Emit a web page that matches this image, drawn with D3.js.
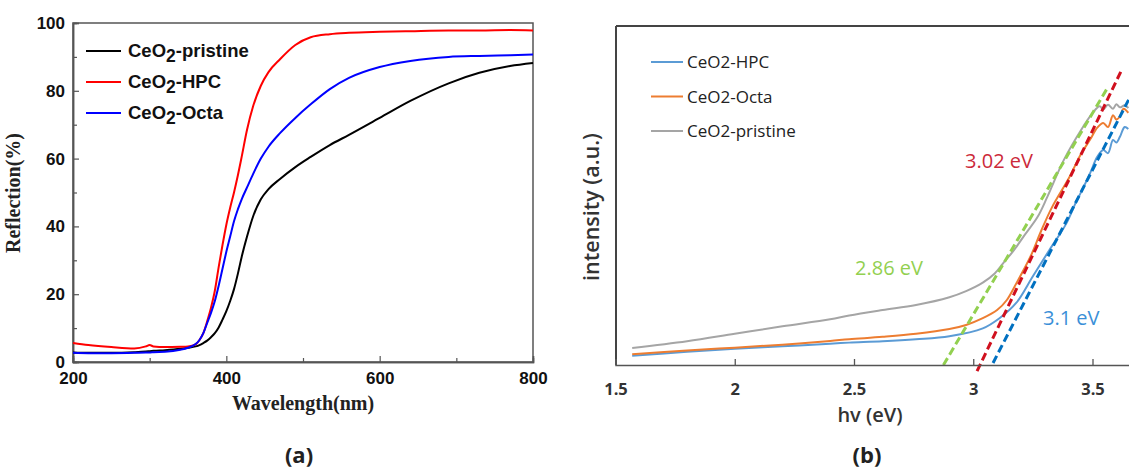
<!DOCTYPE html>
<html>
<head>
<meta charset="utf-8">
<script src="https://cdn.jsdelivr.net/npm/d3@7"></script>
<style>
  body { margin: 0; background: #fff; }
  svg { display: block; }
</style>
</head>
<body>
<div id="chart"></div>
<script>
// ---- panel (a): diffuse reflectance ----
var wavelength = [200, 220, 250, 280, 295, 300, 305, 320, 340, 350, 360, 365, 370, 375, 380, 385, 390, 395, 400, 405, 410, 415, 420, 427, 435, 445, 455, 470, 490, 510, 535, 560, 600, 640, 690, 730, 770, 800];
var reflPristine = [2.8, 2.7, 2.7, 2.9, 3.1, 3.2, 3.3, 3.5, 3.9, 4.2, 4.6, 5.0, 5.6, 6.3, 7.3, 8.5, 10.2, 12.5, 15, 18, 21.5, 26, 31, 37, 43, 48, 51, 54, 57.5, 60.5, 64, 67, 72, 77, 82.2, 85.3, 87.3, 88.2];
var reflHPC = [5.6, 5.0, 4.4, 4.0, 4.6, 5.0, 4.6, 4.4, 4.5, 4.6, 5.2, 6.5, 8.5, 12, 16, 21, 28, 34.5, 40.5, 45.5, 50, 55, 60.5, 68.5, 75.5, 81.5, 85.5, 89.3, 93.5, 95.8, 96.7, 97.1, 97.4, 97.6, 97.8, 97.8, 97.9, 97.8];
var reflOcta = [2.7, 2.6, 2.6, 2.7, 2.8, 2.8, 2.9, 3.0, 3.6, 4.2, 5.3, 6.5, 8.5, 11.5, 14.5, 18, 22.5, 27.5, 32.5, 37, 41.5, 45, 48, 51.5, 55.5, 60, 63.5, 67.5, 72, 76, 80.5, 83.8, 87, 88.8, 90, 90.3, 90.5, 90.7];
var reflSeries = [
  {name: "pristine", color: "#000000", values: reflPristine},
  {name: "HPC", color: "#ff0000", values: reflHPC},
  {name: "Octa", color: "#0000ff", values: reflOcta}
];
var reflTicksX = [200, 400, 600, 800];
var reflMinorX = [300, 500, 700];
var reflTicksY = [0, 20, 40, 60, 80, 100];
var reflMinorY = [10, 30, 50, 70, 90];

// ---- panel (b): Tauc plot ----
var hvPristine = [1.57, 1.8, 2.0, 2.2, 2.4, 2.48, 2.62, 2.76, 2.9, 2.97, 3.04, 3.09, 3.125, 3.17, 3.21, 3.27, 3.31, 3.38, 3.46, 3.5, 3.53, 3.545, 3.565, 3.586, 3.6, 3.615, 3.635, 3.65];
var intPristine = [5.0, 7.0, 9.2, 11.4, 13.5, 14.6, 16.2, 17.7, 20, 21.8, 24.3, 27, 30, 33.8, 37.8, 43.7, 49.5, 60.5, 70.2, 74.3, 76.3, 75.4, 76.8, 75.6, 76.9, 76.0, 76.6, 75.8];
var hvOcta = [1.57, 1.8, 2.0, 2.2, 2.4, 2.48, 2.62, 2.76, 2.9, 2.97, 3.04, 3.1, 3.14, 3.18, 3.24, 3.285, 3.33, 3.4, 3.45, 3.49, 3.52, 3.545, 3.565, 3.586, 3.6, 3.615, 3.63, 3.65];
var intOcta = [3.2, 4.3, 5.1, 6.0, 7.1, 7.6, 8.3, 9.2, 10.6, 11.8, 13.8, 16.2, 19.1, 24, 32, 39.6, 46.5, 55, 62, 66.5, 70, 71.4, 70.2, 73.7, 72.4, 73.3, 75.6, 74.4];
var hvHPC = [1.57, 1.8, 2.0, 2.2, 2.4, 2.48, 2.62, 2.76, 2.9, 3.04, 3.11, 3.18, 3.25, 3.32, 3.39, 3.435, 3.45, 3.49, 3.52, 3.545, 3.565, 3.586, 3.6, 3.615, 3.635, 3.65];
var intHPC = [2.7, 3.9, 4.8, 5.5, 6.3, 6.6, 7.0, 7.6, 8.5, 10.8, 13.8, 18.3, 26.2, 34, 41.7, 48.7, 50.7, 56.6, 61.4, 63.4, 62.5, 66.4, 65.6, 67.3, 70.2, 69.6];
var taucSeries = [
  {name: "CeO2-HPC", color: "#5b9bd5", hv: hvHPC, values: intHPC},
  {name: "CeO2-Octa", color: "#ed7d31", hv: hvOcta, values: intOcta},
  {name: "CeO2-pristine", color: "#a5a5a5", hv: hvPristine, values: intPristine}
];
// tangent lines: [hv, intensity] end points
var tangents = [
  {color: "#92d050", ends: [[2.875, 0], [3.565, 82]]},
  {color: "#d0101e", ends: [[3.016, -1.8], [3.624, 87.3]]},
  {color: "#0070c0", ends: [[3.083, 0.6], [3.75, 91.7]]}
];
var gapLabels = [
  {text: "3.02 eV", color: "#cc2a3a", x: 965, y: 168},
  {text: "2.86 eV", color: "#92d050", x: 855, y: 275},
  {text: "3.1 eV", color: "#3a8fd8", x: 1043, y: 325}
];
var taucTicksX = [1.5, 2, 2.5, 3, 3.5];

var W = 1129, H = 470;
var svg = d3.select("#chart").append("svg")
  .attr("width", W)
  .attr("height", H);

// ================= panel (a) =================
var ax = d3.scaleLinear().domain([200, 800]).range([73, 533]);
var ay = d3.scaleLinear().domain([0, 100]).range([362, 23]);
var gA = svg.append("g");

gA.append("rect")
  .attr("x", 73).attr("y", 23)
  .attr("width", 460).attr("height", 339)
  .attr("fill", "none").attr("stroke", "#555").attr("stroke-width", 1.5);

gA.append("g").attr("transform", "translate(0,362)")
  .call(d3.axisBottom(ax).tickValues(reflTicksX).tickSize(-6).tickPadding(10));
gA.append("g").attr("transform", "translate(0,362)")
  .call(d3.axisBottom(ax).tickValues(reflMinorX).tickSize(-4).tickFormat(""));
gA.append("g").attr("transform", "translate(73,0)")
  .call(d3.axisLeft(ay).tickValues(reflTicksY).tickSize(-6).tickPadding(8));
gA.append("g").attr("transform", "translate(73,0)")
  .call(d3.axisLeft(ay).tickValues(reflMinorY).tickSize(-4).tickFormat(""));

gA.selectAll(".domain").attr("stroke", "#555").attr("stroke-width", 1.5);
gA.selectAll(".tick line").attr("stroke", "#555").attr("stroke-width", 1.2);
gA.selectAll(".tick text")
  .attr("font-family", "Liberation Sans, Arial, sans-serif")
  .attr("font-weight", "bold")
  .attr("font-size", 17)
  .attr("fill", "#111");

var lineA = d3.line()
  .x(function (d, i) { return ax(wavelength[i]); })
  .y(function (d) { return ay(d); })
  .curve(d3.curveMonotoneX);

gA.selectAll(".refl")
  .data(reflSeries)
  .join("path")
  .attr("class", "refl")
  .attr("d", function (d) { return lineA(d.values); })
  .attr("fill", "none")
  .attr("stroke", function (d) { return d.color; })
  .attr("stroke-width", 2);

// legend (a)
var legA = gA.append("g");
reflSeries.forEach(function (s, i) {
  var yy = 51 + i * 31;
  legA.append("line")
    .attr("x1", 86).attr("x2", 121).attr("y1", yy).attr("y2", yy)
    .attr("stroke", s.color).attr("stroke-width", 2);
  var t = legA.append("text")
    .attr("x", 128).attr("y", yy + 6)
    .attr("font-family", "Liberation Sans, Arial, sans-serif")
    .attr("font-weight", "bold")
    .attr("font-size", 18.5)
    .attr("fill", "#111");
  t.append("tspan").text("CeO");
  t.append("tspan").attr("dy", 5).attr("font-size", 17.5).text("2");
  t.append("tspan").attr("dy", -5).text("-" + s.name);
});

gA.append("text")
  .attr("transform", "translate(20,193) rotate(-90)")
  .attr("text-anchor", "middle")
  .attr("font-family", "Liberation Serif, Times New Roman, serif")
  .attr("font-weight", "bold")
  .attr("font-size", 20)
  .attr("fill", "#222")
  .text("Reflection(%)");

gA.append("text")
  .attr("x", 303).attr("y", 410)
  .attr("text-anchor", "middle")
  .attr("font-family", "Liberation Serif, Times New Roman, serif")
  .attr("font-weight", "bold")
  .attr("font-size", 20)
  .attr("fill", "#222")
  .text("Wavelength(nm)");

gA.append("text")
  .attr("x", 299).attr("y", 463)
  .attr("text-anchor", "middle")
  .attr("font-family", "Open Sans, sans-serif")
  .attr("font-weight", "bold")
  .attr("font-size", 22)
  .attr("fill", "#222")
  .text("(a)");

// ================= panel (b) =================
var bx = d3.scaleLinear().domain([1.5, 4]).range([615.5, 1211.75]);
var by = d3.scaleLinear().domain([0, 100]).range([365, 26]);
var gB = svg.append("g");

var lineB = d3.line()
  .x(function (d) { return bx(d[0]); })
  .y(function (d) { return by(d[1]); })
  .curve(d3.curveCatmullRom.alpha(0.5));

gB.selectAll(".tauc")
  .data(taucSeries)
  .join("path")
  .attr("class", "tauc")
  .attr("d", function (d) {
    return lineB(d.hv.map(function (h, i) { return [h, d.values[i]]; }));
  })
  .attr("fill", "none")
  .attr("stroke", function (d) { return d.color; })
  .attr("stroke-width", 2);

gB.selectAll(".tangent")
  .data(tangents)
  .join("line")
  .attr("class", "tangent")
  .attr("x1", function (d) { return bx(d.ends[0][0]); })
  .attr("y1", function (d) { return by(d.ends[0][1]); })
  .attr("x2", function (d) { return bx(d.ends[1][0]); })
  .attr("y2", function (d) { return by(d.ends[1][1]); })
  .attr("stroke", function (d) { return d.color; })
  .attr("stroke-width", 3)
  .attr("stroke-dasharray", "8,4");

// frame: left and top
gB.append("line").attr("x1", 616).attr("x2", 616).attr("y1", 26).attr("y2", 365)
  .attr("stroke", "#444").attr("stroke-width", 2);
gB.append("line").attr("x1", 616).attr("x2", W).attr("y1", 26).attr("y2", 26)
  .attr("stroke", "#444").attr("stroke-width", 2);

var axisBX = gB.append("g").attr("transform", "translate(0,365)")
  .call(d3.axisBottom(bx).tickValues(taucTicksX).tickSize(-6).tickPadding(18)
    .tickFormat(function (d) { return String(d); }));
axisBX.select(".domain").attr("stroke", "#555").attr("stroke-width", 1.5);
axisBX.selectAll(".tick line").attr("stroke", "#555").attr("stroke-width", 1.3);
axisBX.selectAll(".tick text")
  .attr("font-family", "Open Sans, sans-serif")
  .attr("font-weight", "bold")
  .attr("font-size", 16.5)
  .attr("fill", "#333");

// legend (b)
taucSeries.forEach(function (s, i) {
  var yy = 62 + i * 34.5;
  gB.append("line")
    .attr("x1", 651).attr("x2", 683).attr("y1", yy).attr("y2", yy)
    .attr("stroke", s.color).attr("stroke-width", 2);
  gB.append("text")
    .attr("x", 687).attr("y", yy + 6)
    .attr("font-family", "Open Sans, sans-serif")
    .attr("font-size", 17)
    .attr("fill", "#222")
    .text(s.name);
});

gB.selectAll(".gap")
  .data(gapLabels)
  .join("text")
  .attr("class", "gap")
  .attr("x", function (d) { return d.x; })
  .attr("y", function (d) { return d.y; })
  .attr("font-family", "Open Sans, sans-serif")
  .attr("font-size", 20)
  .attr("fill", function (d) { return d.color; })
  .text(function (d) { return d.text; });

gB.append("text")
  .attr("transform", "translate(599,207) rotate(-90)")
  .attr("text-anchor", "middle")
  .attr("font-family", "Open Sans, sans-serif")
  .attr("font-weight", 600)
  .attr("font-size", 21.5)
  .attr("fill", "#333")
  .text("intensity (a.u.)");

gB.append("text")
  .attr("x", 870).attr("y", 422)
  .attr("text-anchor", "middle")
  .attr("font-family", "Open Sans, sans-serif")
  .attr("font-weight", 600)
  .attr("font-size", 20)
  .attr("fill", "#333")
  .text("hv (eV)");

gB.append("text")
  .attr("x", 867).attr("y", 463)
  .attr("text-anchor", "middle")
  .attr("font-family", "Open Sans, sans-serif")
  .attr("font-weight", "bold")
  .attr("font-size", 22)
  .attr("fill", "#222")
  .text("(b)");
</script>
</body>
</html>
